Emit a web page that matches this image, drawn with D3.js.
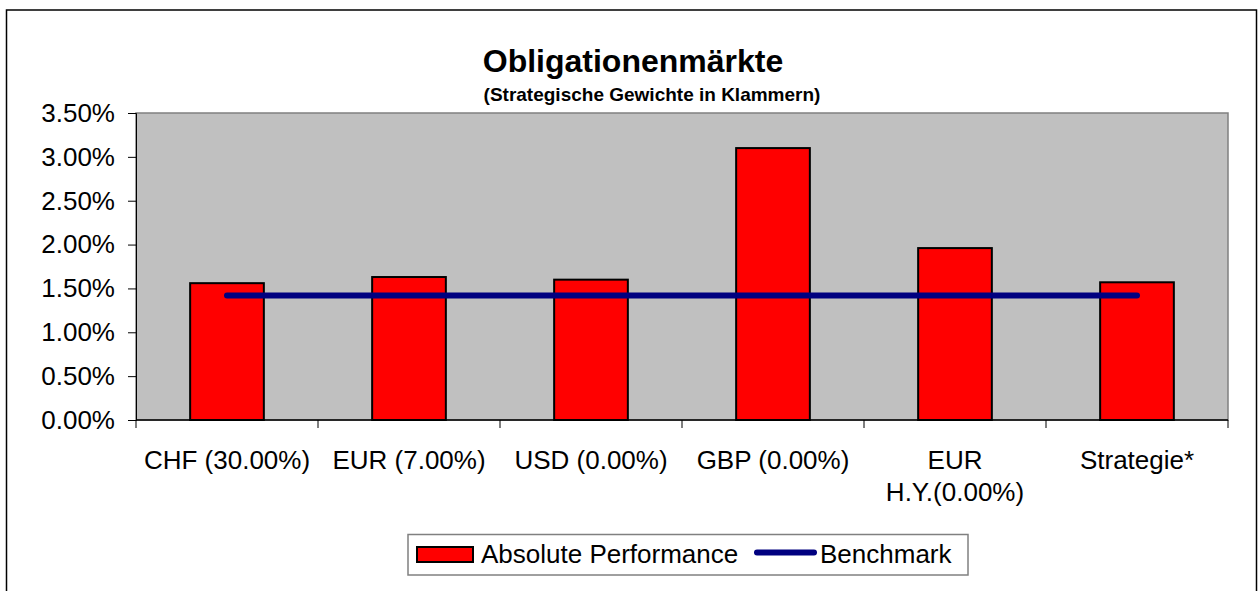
<!DOCTYPE html>
<html><head><meta charset="utf-8">
<script src="https://cdn.jsdelivr.net/npm/d3@7"></script>
<style>body{margin:0;background:#fff}svg{display:block;font-family:"Liberation Sans",Arial,sans-serif}</style>
</head><body><svg id="c" width="1260" height="591"></svg>
<script>
const categories = ["CHF (30.00%)","EUR (7.00%)","USD (0.00%)","GBP (0.00%)","EUR\nH.Y.(0.00%)","Strategie*"];
const absolutePerformance = [0.0156,0.0163,0.0160,0.0310,0.0196,0.0157];
const benchmark = [0.0142,0.0142,0.0142,0.0142,0.0142,0.0142];
const yTicks = [0,0.005,0.01,0.015,0.02,0.025,0.03,0.035];
const title = "Obligationenmärkte";
const subtitle = "(Strategische Gewichte in Klammern)";
const legendLabels = ["Absolute Performance","Benchmark"];

const FS = 26;
const svg = d3.select("#c");
const L=136, R=1228, T=113, B=420;
// outer frame
svg.append("rect").attr("x",6.5).attr("y",10).attr("width",1250).attr("height",620)
  .attr("fill","#fff").attr("stroke","#000").attr("stroke-width",1.5);

const x = d3.scaleBand().domain(categories).range([L,R]).paddingInner(0.595).paddingOuter(0.2975);
const xc = d3.scalePoint().domain(categories).range([L,R]).padding(0.5);
const y = d3.scaleLinear().domain([0,0.035]).range([B,T]);

svg.append("rect").attr("x",L).attr("y",T).attr("width",R-L).attr("height",B-T)
  .attr("fill","#c0c0c0").attr("stroke","#808080").attr("stroke-width",1.5);

svg.append("text").attr("x",633).attr("y",72).attr("text-anchor","middle")
  .attr("font-size",32).attr("font-weight","bold").text(title);
svg.append("text").attr("x",652).attr("y",101).attr("text-anchor","middle")
  .attr("font-size",19).attr("font-weight","bold").text(subtitle);

// bars
svg.selectAll("rect.bar").data(absolutePerformance).join("rect").attr("class","bar")
  .attr("x",(d,i)=>x(categories[i])).attr("width",x.bandwidth())
  .attr("y",d=>y(d)).attr("height",d=>B-y(d))
  .attr("fill","#ff0000").attr("stroke","#000").attr("stroke-width",2);

// y axis
const ya = svg.append("g").attr("transform",`translate(${L},0)`)
  .call(d3.axisLeft(y).tickValues(yTicks).tickFormat(d3.format(".2%")).tickSizeOuter(0).tickSize(8).tickPadding(13));
ya.select(".domain").attr("stroke","#000").attr("stroke-width",1);
ya.selectAll("text").attr("font-size",FS).attr("fill","#000").attr("font-family","Liberation Sans, Arial, sans-serif");

// x axis
const xa = svg.append("g").attr("transform",`translate(0,${B})`);
xa.append("line").attr("x1",L).attr("x2",R).attr("stroke","#000").attr("stroke-width",1.5);
const edges = d3.range(categories.length+1).map(i=>L+i*(R-L)/categories.length);
xa.selectAll("line.t").data(edges).join("line").attr("class","t")
  .attr("x1",d=>d).attr("x2",d=>d).attr("y1",0).attr("y2",8).attr("stroke","#000");
categories.forEach(c=>{
  const lines = c.split("\n");
  const t = xa.append("text").attr("x",xc(c)).attr("y",49).attr("text-anchor","middle")
    .attr("font-size",FS).attr("fill","#000");
  lines.forEach((ln,j)=>t.append("tspan").attr("x",xc(c)).attr("dy",j?32:0).text(ln));
});

// benchmark line
svg.append("path").datum(benchmark)
  .attr("d",d3.line().x((d,i)=>xc(categories[i])).y(d=>y(d)))
  .attr("fill","none").attr("stroke","#000080").attr("stroke-width",6).attr("stroke-linecap","round");

// legend
const lg = svg.append("g");
lg.append("rect").attr("x",408).attr("y",534.5).attr("width",560).attr("height",40.5)
  .attr("fill","#fff").attr("stroke","#808080").attr("stroke-width",1.5);
lg.append("rect").attr("x",417).attr("y",547).attr("width",56).attr("height",15)
  .attr("fill","#ff0000").attr("stroke","#000").attr("stroke-width",2);
lg.append("text").attr("x",481).attr("y",563).attr("font-size",FS).text(legendLabels[0]);
lg.append("line").attr("x1",757).attr("x2",814).attr("y1",552.5).attr("y2",552.5)
  .attr("stroke","#000080").attr("stroke-width",6).attr("stroke-linecap","round");
lg.append("text").attr("x",820).attr("y",563).attr("font-size",FS).text(legendLabels[1]);
</script></body></html>
